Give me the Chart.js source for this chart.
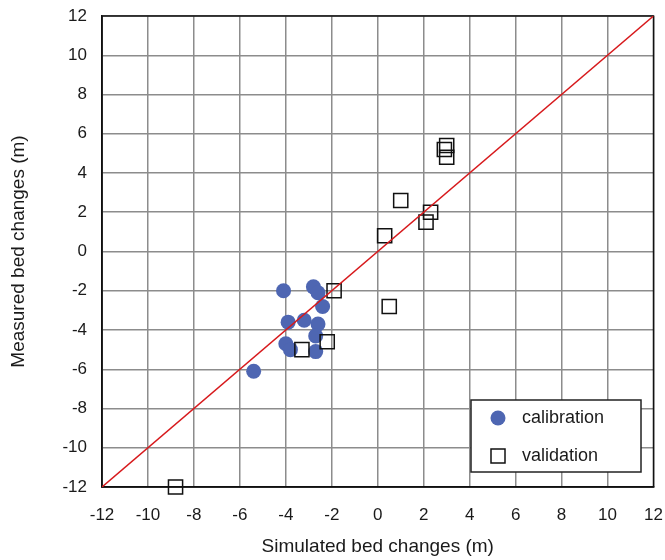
<!DOCTYPE html>
<html lang="en">
  <head>
    <meta charset="UTF-8" />
    <title>Measured vs simulated bed changes</title>
    <script src="https://cdn.jsdelivr.net/npm/chart.js"></script>
    <style>
      body { margin: 0; background: #fff; }
    </style>
  </head>
  <body>
    <canvas id="myChart" width="665" height="560"></canvas>

    <script>
      // values (m)
      const calibX = [-4.1, -2.8, -2.6, -2.4, -3.9, -3.2, -2.6, -2.7, -4.0, -3.8, -2.7, -5.4];
      const calibY = [-2.0, -1.8, -2.1, -2.8, -3.6, -3.5, -3.7, -4.3, -4.7, -5.0, -5.1, -6.1];
      const validX = [-1.9, 0.5, -2.2, -3.3, 3.0, 2.9, 3.0, 1.0, 2.3, 2.1, 0.3, -8.8];
      const validY = [-2.0, -2.8, -4.6, -5.0, 5.4, 5.2, 4.8, 2.6, 2.0, 1.5, 0.8, -12.0];
      const lineX = [-12, 12];
      const seriesNames = ['calibration', 'validation'];

      const BLUE = '#4e66b2';
      const FONT = 'Arial, "Liberation Sans", sans-serif';

      const toPoints = (xs, ys) => xs.map((x, i) => ({ x: x, y: ys[i] }));

      // full black frame round the plot
      const frame = {
        id: 'frame',
        beforeDatasetsDraw(chart) {
          const { ctx, chartArea: a } = chart;
          ctx.save();
          ctx.strokeStyle = '#111';
          ctx.lineWidth = 1.5;
          ctx.strokeRect(a.left, a.top, a.right - a.left, a.bottom - a.top);
          ctx.restore();
        }
      };

      // legend box inside the plot, bottom right
      const boxLegend = {
        id: 'boxLegend',
        afterDraw(chart) {
          const ctx = chart.ctx;
          const left = 471, top = 400, w = 170, h = 72;
          ctx.save();
          ctx.fillStyle = '#fff';
          ctx.fillRect(left, top, w, h);
          ctx.strokeStyle = '#222';
          ctx.lineWidth = 1.5;
          ctx.strokeRect(left, top, w, h);

          ctx.fillStyle = BLUE;
          ctx.beginPath();
          ctx.arc(left + 27, top + 18, 7.5, 0, Math.PI * 2);
          ctx.fill();

          ctx.strokeStyle = '#111';
          ctx.lineWidth = 1.5;
          ctx.strokeRect(left + 20, top + 49, 14, 14);

          ctx.fillStyle = '#1a1a1a';
          ctx.font = '18px ' + FONT;
          ctx.textBaseline = 'middle';
          ctx.fillText(seriesNames[0], left + 51, top + 18);
          ctx.fillText(seriesNames[1], left + 51, top + 56);
          ctx.restore();
        }
      };

      const ctx = document.getElementById('myChart').getContext('2d');
      const myChart = new Chart(ctx, {
        type: 'scatter',
        data: {
          datasets: [
            {
              type: 'line',
              label: '1:1',
              data: toPoints(lineX, lineX),
              borderColor: '#d7191c',
              borderWidth: 1.5,
              pointRadius: 0,
              fill: false
            },
            {
              label: seriesNames[1],
              data: toPoints(validX, validY),
              pointStyle: 'rect',
              pointRadius: 10,
              pointBorderWidth: 1.5,
              borderColor: '#111',
              backgroundColor: 'rgba(0,0,0,0)',
              clip: false
            },
            {
              label: seriesNames[0],
              data: toPoints(calibX, calibY),
              pointStyle: 'circle',
              pointRadius: 7.5,
              pointBorderWidth: 0,
              borderColor: BLUE,
              backgroundColor: BLUE
            }
          ]
        },
        options: {
          responsive: false,
          animation: false,
          layout: { padding: { top: 16, right: 10, left: 0, bottom: 0 } },
          plugins: {
            legend: { display: false },
            tooltip: { enabled: false }
          },
          scales: {
            x: {
              type: 'linear',
              min: -12,
              max: 12,
              afterFit: s => {
                s.height = 73;
                s.paddingLeft = 0;
                s.paddingRight = 0;
              },
              ticks: {
                stepSize: 2,
                padding: 18,
                color: '#1a1a1a',
                font: { family: FONT, size: 17 }
              },
              grid: { color: '#8c8c8c', lineWidth: 1.5, drawTicks: false },
              border: { color: '#111', width: 1.5 },
              title: {
                display: true,
                text: 'Simulated bed changes (m)',
                color: '#1a1a1a',
                font: { family: FONT, size: 19 },
                padding: { top: 0, bottom: 2 }
              }
            },
            y: {
              type: 'linear',
              min: -12,
              max: 12,
              afterFit: s => {
                s.width = 102;
                s.paddingTop = 0;
                s.paddingBottom = 0;
              },
              ticks: {
                stepSize: 2,
                padding: 15,
                color: '#1a1a1a',
                font: { family: FONT, size: 17 }
              },
              grid: { color: '#8c8c8c', lineWidth: 1.5, drawTicks: false },
              border: { color: '#111', width: 1.5 },
              title: {
                display: true,
                text: 'Measured bed changes (m)',
                color: '#1a1a1a',
                font: { family: FONT, size: 19 },
                padding: { top: 7, bottom: 0 }
              }
            }
          }
        },
        plugins: [frame, boxLegend]
      });
    </script>
  </body>
</html>
